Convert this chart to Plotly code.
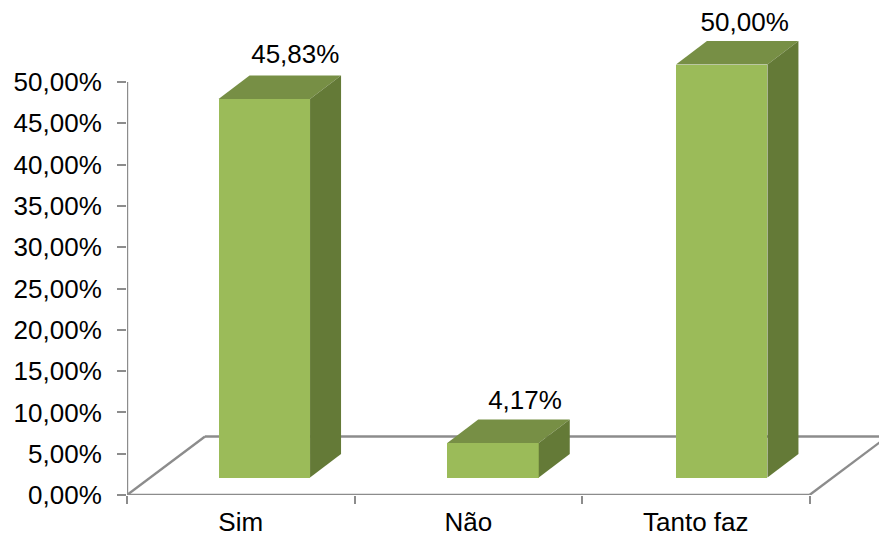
import plotly.graph_objects as go

categories = ["Sim", "Não", "Tanto faz"]
values = [45.83, 4.17, 50.00]
value_labels = ["45,83%", "4,17%", "50,00%"]
y_ticks = [0, 5, 10, 15, 20, 25, 30, 35, 40, 45, 50]
y_tick_labels = ["0,00%", "5,00%", "10,00%", "15,00%", "20,00%", "25,00%",
                 "30,00%", "35,00%", "40,00%", "45,00%", "50,00%"]

# Pixel geometry of the plot (styling only)
W, H = 879, 538
LEFT, BOTTOM = 127, 43
PX_X = 227.5   # pixels per category
PX_Y = 8.26    # pixels per percentage point
x_top = (W - LEFT) / PX_X
y_top = (H - BOTTOM) / PX_Y

def px_x(p): return p / PX_X
def px_y(p): return p / PX_Y

bar_start = px_x(137.3)
bar_step = px_x(228.7)
bar_w = px_x(91.5)
bar_base = px_y(17.5)
dx, dy = px_x(31), px_y(23.5)
floor_dx, floor_dy = px_x(78), px_y(58.5)
label_dx = [px_x(31), px_x(32), px_x(23)]
label_dy = [px_y(19), px_y(17), px_y(17)]

FRONT, TOP, SIDE = "#9BBB59", "#778F45", "#647A37"
AXIS = "#8C8C8C"
FONT = dict(family="Liberation Sans, Arial, sans-serif", size=26, color="#000000")

n = len(categories)
positions = [bar_start + i * bar_step for i in range(n)]

fig = go.Figure()
fig.add_trace(go.Bar(x=positions, y=values, base=[bar_base] * n, width=bar_w,
                     marker=dict(color=FRONT, line=dict(width=0)),
                     hoverinfo="skip", showlegend=False))

for p, v in zip(positions, values):
    l, r = p - bar_w / 2, p + bar_w / 2
    t = bar_base + v
    fig.add_trace(go.Scatter(x=[l, r, r + dx, l + dx, l], y=[t, t, t + dy, t + dy, t],
                             mode="lines", fill="toself", fillcolor=TOP, line=dict(width=0),
                             hoverinfo="skip", showlegend=False))
    fig.add_trace(go.Scatter(x=[r, r + dx, r + dx, r, r],
                             y=[bar_base, bar_base + dy, t + dy, t, bar_base],
                             mode="lines", fill="toself", fillcolor=SIDE, line=dict(width=0),
                             hoverinfo="skip", showlegend=False))

fig.add_trace(go.Scatter(x=[p + d for p, d in zip(positions, label_dx)],
                         y=[bar_base + v + dy + e for v, e in zip(values, label_dy)],
                         text=value_labels, mode="text", textposition="middle center",
                         textfont=FONT, hoverinfo="skip", showlegend=False))

line = dict(color=AXIS, width=2.4)
shapes = [
    dict(type="line", x0=0, x1=0, y0=0, y1=50, line=line, layer="below"),
    dict(type="line", x0=0, x1=n, y0=0, y1=0, line=line, layer="below"),
    dict(type="line", x0=0, x1=floor_dx, y0=0, y1=floor_dy, line=line, layer="below"),
    dict(type="line", x0=floor_dx, x1=x_top, y0=floor_dy, y1=floor_dy, line=line, layer="below"),
    dict(type="line", x0=n, x1=n + floor_dx, y0=0, y1=floor_dy, line=line, layer="below"),
]

fig.update_layout(
    width=W, height=H,
    margin=dict(l=LEFT, r=0, t=0, b=BOTTOM, pad=0),
    plot_bgcolor="white", paper_bgcolor="white",
    font=FONT, shapes=shapes, showlegend=False, bargap=0,
    xaxis=dict(range=[0, x_top], automargin=False, showgrid=False, zeroline=False, showline=False,
               tickmode="array", tickvals=[i + 0.5 for i in range(n)], ticktext=categories,
               ticks="", ticklabelstandoff=9, tickfont=FONT,
               minor=dict(tickmode="array", tickvals=list(range(n + 1)), ticks="outside",
                          ticklen=8, tickwidth=2, tickcolor=AXIS, showgrid=False)),
    yaxis=dict(range=[0, y_top], automargin=False, showgrid=False, zeroline=False, showline=False,
               tickmode="array", tickvals=y_ticks, ticktext=y_tick_labels,
               ticks="outside", ticklen=9, tickwidth=2, tickcolor=AXIS,
               ticklabelstandoff=10, tickfont=FONT),
)

fig.write_html("out.html", post_script="document.body.style.margin='0';",
               config=dict(displayModeBar=False))
